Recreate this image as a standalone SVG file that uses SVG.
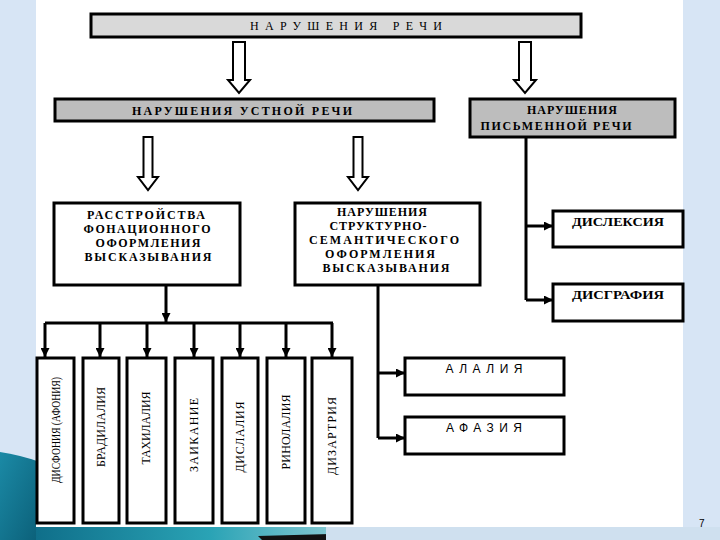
<svg xmlns="http://www.w3.org/2000/svg" width="720" height="540" viewBox="0 0 720 540">
<defs>
<linearGradient id="teal" x1="0" y1="0" x2="1" y2="1">
<stop offset="0" stop-color="#1b8aa6"/>
<stop offset="1" stop-color="#0b5f78"/>
</linearGradient>
<linearGradient id="band" x1="0" y1="0" x2="1" y2="0">
<stop offset="0" stop-color="#0f6f8a"/>
<stop offset="0.6" stop-color="#2aa3b5"/>
<stop offset="1" stop-color="#7fc6d0"/>
</linearGradient>
<marker id="ah" viewBox="0 0 10 10" refX="10" refY="5" markerWidth="9" markerHeight="9" markerUnits="userSpaceOnUse" orient="auto">
<path d="M0,0 L10,5 L0,10 z" fill="#000"/>
</marker>
<style>
.box{fill:#fff;stroke:#000;stroke-width:3}
.g1{fill:#d9d9d9;stroke:#000;stroke-width:3}
.g2{fill:#bdbdbd;stroke:#000;stroke-width:3}
.ba{fill:#fff;stroke:#000;stroke-width:2;stroke-linejoin:miter}
.ln{fill:none;stroke:#000;stroke-width:3}
.ar{fill:none;stroke:#000;stroke-width:3;marker-end:url(#ah)}
.t{font-family:"Liberation Serif","Times New Roman",serif;font-weight:bold;font-size:12px;fill:#000;text-anchor:middle}
.tr{font-family:"Liberation Serif","Times New Roman",serif;font-size:12px;fill:#000;text-anchor:middle}
.ts{font-family:"Liberation Sans",Arial,sans-serif;font-size:12px;fill:#000;text-anchor:middle}
</style>
</defs>
<rect x="0" y="0" width="720" height="540" fill="#d7e5f5"/>
<path d="M0,452 Q20,455 40,462 L40,540 L0,540 Z" fill="url(#teal)"/>
<rect x="36" y="527" width="290" height="13" fill="url(#band)"/>
<path d="M258,536 L330,534 L336,540 L262,540 Z" fill="#111"/>
<rect x="326" y="527" width="394" height="13" fill="#cfe0ef"/>
<rect x="36" y="0" width="647" height="527" fill="#fff"/>
<text x="699" y="527" style="font-family:'Liberation Sans',Arial,sans-serif;font-size:10px;fill:#000">7</text>

<g id="connectors">
<path class="ba" d="M233,42 H245 V80 H250 L239,93 L228,80 H233 Z"/>
<path class="ba" d="M519,42 H531 V80 H536 L525,93 L514,80 H519 Z"/>
<path class="ba" d="M143.5,137 H152.5 V177 H158 L148,190 L138,177 H143.5 Z"/>
<path class="ba" d="M353.5,137 H362.5 V177 H368 L358,190 L348,177 H353.5 Z"/>
<path class="ar" d="M166,285 V322"/>
<path class="ln" d="M45,323 H333"/>
<path class="ar" d="M45,323 V357"/>
<path class="ar" d="M100,323 V357"/>
<path class="ar" d="M147,323 V357"/>
<path class="ar" d="M194,323 V357"/>
<path class="ar" d="M240,323 V357"/>
<path class="ar" d="M286,323 V357"/>
<path class="ar" d="M332,323 V357"/>
<path class="ln" d="M526,137 V300"/>
<path class="ar" d="M526,226 H553"/>
<path class="ar" d="M526,300 H553"/>
<path class="ln" d="M378,285 V438"/>
<path class="ar" d="M378,373 H405"/>
<path class="ar" d="M378,438 H405"/>
</g>

<g id="n-speech">
<rect class="g1" x="91" y="14" width="490" height="23"/>
<text class="tr" x="346" y="30" textLength="192" lengthAdjust="spacing">НАРУШЕНИЯ  РЕЧИ</text>
</g>
<g id="n-oral">
<rect class="g2" x="55" y="99" width="379" height="22"/>
<text class="t" x="242" y="115" textLength="220" lengthAdjust="spacing">НАРУШЕНИЯ  УСТНОЙ  РЕЧИ</text>
</g>
<g id="n-written">
<rect class="g2" x="470" y="99" width="205" height="38"/>
<text class="t" x="572" y="114" textLength="90" lengthAdjust="spacing">НАРУШЕНИЯ</text>
<text class="t" x="556" y="130" textLength="151" lengthAdjust="spacing">ПИСЬМЕННОЙ РЕЧИ</text>
</g>
<g id="n-phon">
<rect class="box" x="54" y="203" width="186" height="82"/>
<text class="t" x="146" y="219" textLength="118" lengthAdjust="spacing">РАССТРОЙСТВА</text>
<text class="t" x="147" y="233" textLength="127" lengthAdjust="spacing">ФОНАЦИОННОГО</text>
<text class="t" x="148" y="247" textLength="105" lengthAdjust="spacing">ОФОРМЛЕНИЯ</text>
<text class="t" x="148" y="261" textLength="127" lengthAdjust="spacing">ВЫСКАЗЫВАНИЯ</text>
</g>
<g id="n-struct">
<rect class="box" x="295" y="203" width="185" height="82"/>
<text class="t" x="382" y="216" textLength="90" lengthAdjust="spacing">НАРУШЕНИЯ</text>
<text class="t" x="378" y="230" textLength="97" lengthAdjust="spacing">СТРУКТУРНО-</text>
<text class="t" x="384" y="244" textLength="150" lengthAdjust="spacing">СЕМАНТИЧЕСКОГО</text>
<text class="t" x="380" y="258" textLength="110" lengthAdjust="spacing">ОФОРМЛЕНИЯ</text>
<text class="t" x="386" y="272" textLength="127" lengthAdjust="spacing">ВЫСКАЗЫВАНИЯ</text>
</g>
<g id="n-dyslexia">
<rect class="box" x="553" y="211" width="130" height="36"/>
<text class="t" x="618" y="226" font-size="13" textLength="92" lengthAdjust="spacingAndGlyphs">ДИСЛЕКСИЯ</text>
</g>
<g id="n-dysgraphia">
<rect class="box" x="553" y="284" width="130" height="37"/>
<text class="t" x="618" y="299" font-size="13" textLength="92" lengthAdjust="spacingAndGlyphs">ДИСГРАФИЯ</text>
</g>
<g id="n-alalia">
<rect class="box" x="405" y="358" width="159" height="37"/>
<text class="ts" x="484" y="373" textLength="77" lengthAdjust="spacing">АЛАЛИЯ</text>
</g>
<g id="n-aphasia">
<rect class="box" x="405" y="417" width="159" height="37"/>
<text class="ts" x="484" y="432" textLength="76" lengthAdjust="spacing">АФАЗИЯ</text>
</g>
<g id="n-dysphonia">
<rect class="box" x="37" y="358" width="37" height="165"/>
<text class="tr" transform="translate(60,430) rotate(-90)" font-size="13" textLength="106" lengthAdjust="spacingAndGlyphs">ДИСФОНИЯ (АФОНИЯ)</text>
</g>
<g id="n-bradylalia">
<rect class="box" x="83" y="358" width="36" height="165"/>
<text class="tr" transform="translate(105,427) rotate(-90)" textLength="80" lengthAdjust="spacing">БРАДИЛАЛИЯ</text>
</g>
<g id="n-tachylalia">
<rect class="box" x="127" y="358" width="39" height="165"/>
<text class="tr" transform="translate(150,428) rotate(-90)" textLength="73" lengthAdjust="spacing">ТАХИЛАЛИЯ</text>
</g>
<g id="n-stutter">
<rect class="box" x="175" y="358" width="38" height="165"/>
<text class="tr" transform="translate(198,435) rotate(-90)" textLength="74" lengthAdjust="spacing">ЗАИКАНИЕ</text>
</g>
<g id="n-dyslalia">
<rect class="box" x="222" y="358" width="36" height="165"/>
<text class="tr" transform="translate(244,437) rotate(-90)" textLength="71" lengthAdjust="spacing">ДИСЛАЛИЯ</text>
</g>
<g id="n-rhinolalia">
<rect class="box" x="267" y="358" width="38" height="165"/>
<text class="tr" transform="translate(290,432) rotate(-90)" textLength="75" lengthAdjust="spacing">РИНОЛАЛИЯ</text>
</g>
<g id="n-dysarthria">
<rect class="box" x="312" y="358" width="40" height="165"/>
<text class="tr" transform="translate(336,436) rotate(-90)" textLength="78" lengthAdjust="spacing">ДИЗАРТРИЯ</text>
</g>
</svg>
